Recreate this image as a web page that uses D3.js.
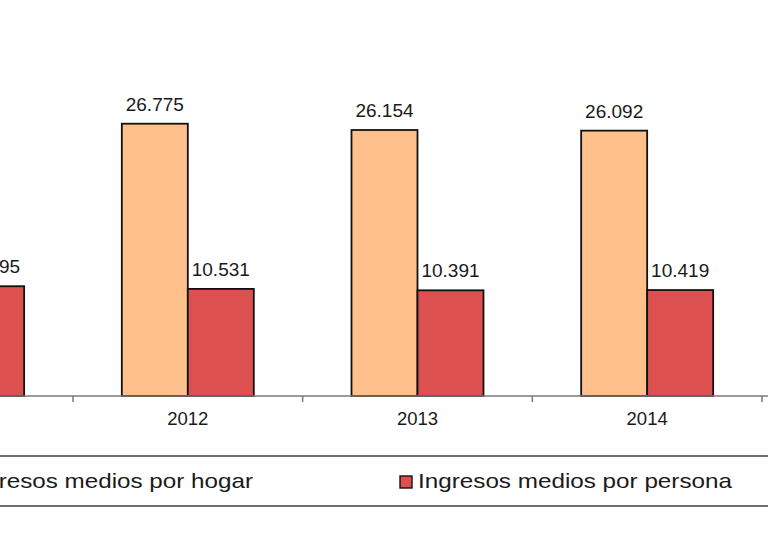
<!DOCTYPE html>
<html>
<head>
<meta charset="utf-8">
<script src="https://cdn.jsdelivr.net/npm/d3@7"></script>
<style>
  body { margin: 0; background: #fff; }
  text { font-family: "Liberation Sans", Arial, sans-serif; fill: #1a1a1a; }
</style>
</head>
<body>
<div id="chart"></div>
<script>
// Ingresos medios (euros), recorte del gráfico original

var years = ["2011", "2012", "2013", "2014"];
var hogar = [27747, 26775, 26154, 26092];
var persona = [10795, 10531, 10391, 10419];
var seriesNames = ["Ingresos medios por hogar", "Ingresos medios por persona"];
var colors = ["#ffc08c", "#dc5050"];

var w = 768, h = 550;

var es = d3.formatLocale({ decimal: ",", thousands: ".", grouping: [3], currency: ["", " €"] });
var fmt = es.format(",d");

var svg = d3.select("#chart").append("svg")
  .attr("width", w)
  .attr("height", h);

var x = d3.scaleBand()
  .domain(years)
  .range([-156.7, 762])
  .paddingInner(0);

var xs = d3.scaleBand()
  .domain([0, 1])
  .range([0, x.bandwidth()])
  .paddingOuter(0.74)
  .paddingInner(0);

var y = d3.scaleLinear()
  .domain([0, 30000])
  .range([396, 90.9]);

var rows = years.map(function(d, i) {
  return { year: d, values: [hogar[i], persona[i]] };
});

var gd = svg.selectAll(".year")
  .data(rows)
.enter().append("g")
  .attr("class", "year")
  .attr("transform", function(d) { return "translate(" + x(d.year) + ",0)"; });

gd.selectAll("rect")
  .data(function(d) { return d.values; })
.enter().append("rect")
  .attr("x", function(d, i) { return xs(i); })
  .attr("y", function(d) { return y(d); })
  .attr("width", xs.bandwidth())
  .attr("height", function(d) { return y(0) - y(d); })
  .style("fill", function(d, i) { return colors[i]; })
  .style("stroke", "#111")
  .style("stroke-width", 1.8);

gd.selectAll(".val")
  .data(function(d) { return d.values; })
.enter().append("text")
  .attr("class", "val")
  .attr("x", function(d, i) { return xs(i) + xs.bandwidth() / 2; })
  .attr("y", function(d) { return y(d) - 13; })
  .attr("text-anchor", "middle")
  .style("font-size", "19px")
  .text(fmt);

// eje horizontal
svg.append("line")
  .attr("x1", 0)
  .attr("x2", w)
  .attr("y1", y(0))
  .attr("y2", y(0))
  .style("stroke", "#7a7a7a")
  .style("stroke-width", 1.5);

var bounds = years.map(function(d) { return x(d); }).concat([x.range()[1]]);

svg.selectAll(".tick")
  .data(bounds)
.enter().append("line")
  .attr("class", "tick")
  .attr("x1", function(d) { return d; })
  .attr("x2", function(d) { return d; })
  .attr("y1", y(0))
  .attr("y2", y(0) + 6)
  .style("stroke", "#7a7a7a")
  .style("stroke-width", 1.5);

svg.selectAll(".yr")
  .data(years)
.enter().append("text")
  .attr("class", "yr")
  .attr("x", function(d) { return x(d) + x.bandwidth() / 2; })
  .attr("y", 425)
  .attr("text-anchor", "middle")
  .style("font-size", "18.5px")
  .text(String);

// leyenda
var lg = svg.append("g");

lg.selectAll(".border")
  .data([456, 506])
.enter().append("line")
  .attr("class", "border")
  .attr("x1", -5)
  .attr("x2", w + 5)
  .attr("y1", function(d) { return d; })
  .attr("y2", function(d) { return d; })
  .style("stroke", "#6e6e6e")
  .style("stroke-width", 2.2);

var legendX = [-53, 400];
var legendLen = [288, 314];

var li = lg.selectAll(".item")
  .data(seriesNames)
.enter().append("g")
  .attr("class", "item")
  .attr("transform", function(d, i) { return "translate(" + legendX[i] + ",476)"; });

li.append("rect")
  .attr("width", 12)
  .attr("height", 12)
  .style("fill", function(d, i) { return colors[i]; })
  .style("stroke", "#111")
  .style("stroke-width", 1.4);

li.append("text")
  .attr("x", 18)
  .attr("y", 12)
  .attr("textLength", function(d, i) { return legendLen[i]; })
  .attr("lengthAdjust", "spacingAndGlyphs")
  .style("font-size", "21px")
  .text(String);
</script>
</body>
</html>
